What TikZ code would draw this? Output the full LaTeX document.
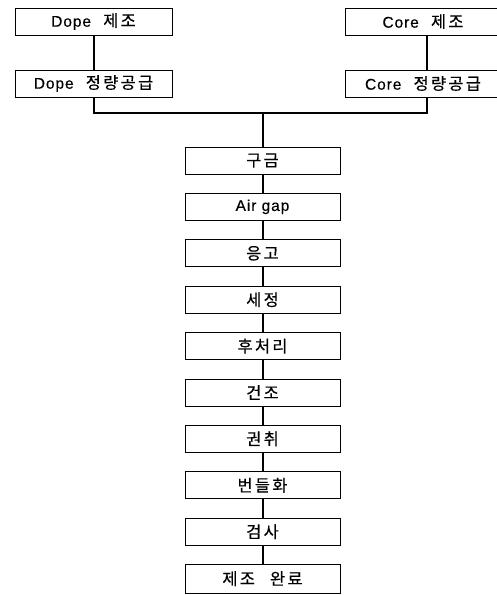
\documentclass[tikz,border=0pt]{standalone}
\usepackage{fontspec}
\setmainfont[LetterSpace=6,FakeBold=0.4]{Liberation Sans}
\newfontfamily\kr[LetterSpace=14,FakeBold=0.4,Scale=1.06]{Noto Sans CJK KR}
\begin{document}
\begin{tikzpicture}[x=1pt,y=1pt,
  box/.style={draw,line width=1pt,minimum height=27pt,inner sep=0pt,font=\fontsize{15.5}{17}\selectfont},
  lowbox/.style={box,minimum width=155pt},
  topbox/.style={box,minimum width=157pt},
  link/.style={line width=2pt}]
\useasboundingbox (0,0) rectangle (497,-595);
\node[topbox] (dope) at (93.5,-21.5) {Dope\;\, \kr 제조};
\node[topbox] (dope2) at (93.5,-83.5) {Dope\;\, \kr 정량공급};
\node[box,minimum width=164pt] (core) at (427,-21.5) {\hspace*{-8pt}Core\;\, \kr 제조};
\node[box,minimum width=164pt] (core2) at (427,-83.5) {\hspace*{-8pt}Core\;\, \kr 정량공급};
\node[lowbox] (s1) at (262.5,-160.5) {\kr 구금};
\node[lowbox] (s2) at (262.5,-206.9) {Air gap};
\node[lowbox] (s3) at (262.5,-253.3) {\kr 응고};
\node[lowbox] (s4) at (262.5,-299.7) {\kr 세정};
\node[lowbox] (s5) at (262.5,-346.1) {\kr 후처리};
\node[lowbox] (s6) at (262.5,-392.5) {\kr 건조};
\node[lowbox] (s7) at (262.5,-438.9) {\kr 권취};
\node[lowbox] (s8) at (262.5,-485.3) {\kr 번들화};
\node[lowbox] (s9) at (262.5,-531.7) {\kr 검사};
\node[lowbox,minimum height=29pt] (s10) at (262.5,-578.6) {\kr 제조\;\; 완료};
\coordinate (j) at (262.5,-113);
\draw[link] (dope) -- (dope2);
\draw[link] (core) -- (core2);
\draw[link] (dope2.south) |- (j) -| (core2.south);
\draw[link] (j) -- (s1);
\draw[link] (s1) -- (s2);
\draw[link] (s2) -- (s3);
\draw[link] (s3) -- (s4);
\draw[link] (s4) -- (s5);
\draw[link] (s5) -- (s6);
\draw[link] (s6) -- (s7);
\draw[link] (s7) -- (s8);
\draw[link] (s8) -- (s9);
\draw[link] (s9) -- (s10);
\end{tikzpicture}
\end{document}
